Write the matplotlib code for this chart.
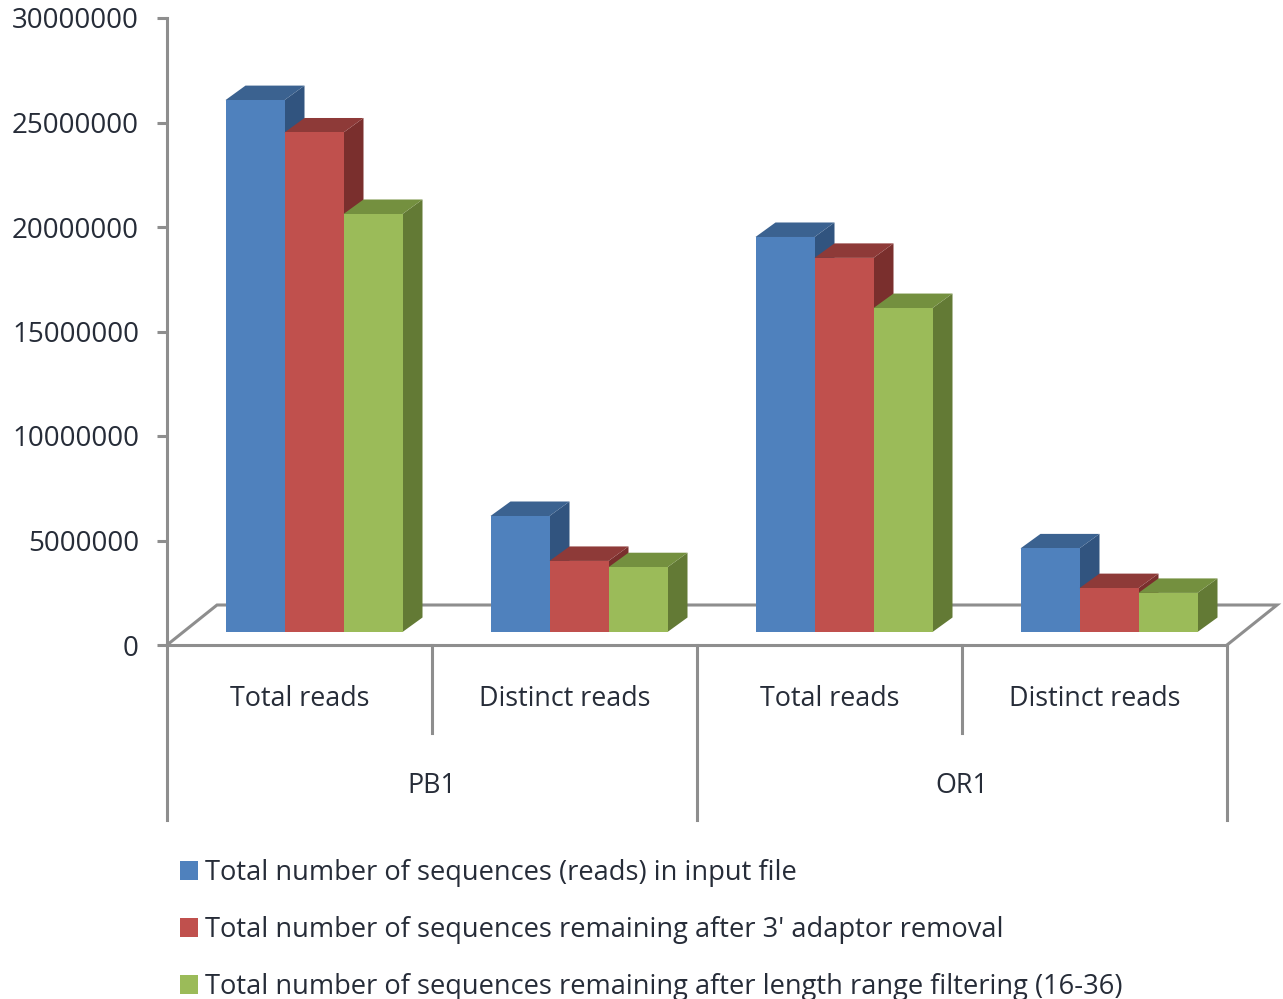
import matplotlib
matplotlib.use("Agg")
import matplotlib.pyplot as plt
from matplotlib.patches import Patch

plt.rcParams['font.family'] = ['Open Sans', 'DejaVu Sans']

groups = ["PB1", "OR1"]
categories = ["Total reads", "Distinct reads", "Total reads", "Distinct reads"]
series_names = [
    "Total number of sequences (reads) in input file",
    "Total number of sequences remaining after 3' adaptor removal",
    "Total number of sequences remaining after length range filtering (16-36)",
]
input_reads = [25450000, 5550000, 18900000, 4000000]
adaptor_removed = [23900000, 3400000, 17900000, 2100000]
length_filtered = [20000000, 3100000, 15500000, 1870000]
y_ticks = [0, 5000000, 10000000, 15000000, 20000000, 25000000, 30000000]

front_colors = ["#4f81bd", "#c0504d", "#9bbb59"]
top_colors = ["#3b6290", "#8e3a38", "#74903f"]
side_colors = ["#31547f", "#7a2f2d", "#637a35"]
line_color = "#8e8e8e"
text_color = "#262c38"

W, H = 1283, 999
LEFT, RIGHT, TOP, BOTTOM = 167, 1227, 18, 645
LW = 2.2

fig = plt.figure(figsize=(W / 100, H / 100), dpi=100)
ax = fig.add_axes([LEFT / W, 1 - BOTTOM / H, (RIGHT - LEFT) / W, (BOTTOM - TOP) / H])
ax.set_xlim(0, len(categories))
ax.set_ylim(0, y_ticks[-1])

# sizes in pixels converted to data units, for the fake 3d offsets
px_x = len(categories) / (RIGHT - LEFT)
px_y = y_ticks[-1] / (BOTTOM - TOP)

for s in ["top", "right"]:
    ax.spines[s].set_visible(False)
for s in ["left", "bottom"]:
    ax.spines[s].set_color(line_color)
    ax.spines[s].set_linewidth(LW)

ax.set_yticks(y_ticks)
ax.set_yticklabels([str(t) for t in y_ticks], fontsize=20, color=text_color)
ax.tick_params(axis="y", length=7.2, width=LW, color=line_color, pad=13)
ax.set_xticks([])

# floor of the chart
floor_dx = 50 * px_x
floor_dy = 40 * px_y
ax.plot([0, floor_dx, len(categories) + floor_dx, len(categories)],
        [0, floor_dy, floor_dy, 0], color=line_color, lw=LW, clip_on=False,
        solid_joinstyle="miter", zorder=1)

# separators of the two level category axis
low_end = -88 * px_y
group_end = -175 * px_y
for x in [0, 2, 4]:
    ax.plot([x, x], [0, group_end], color=line_color, lw=LW, clip_on=False)
for x in [1, 3]:
    ax.plot([x, x], [0, low_end], color=line_color, lw=LW, clip_on=False)

for i, name in enumerate(categories):
    ax.text(i + 0.5, -54 * px_y, name, ha="center", va="center",
            fontsize=19.4, color=text_color)
for i, name in enumerate(groups):
    ax.text(2 * i + 1, -141 * px_y, name, ha="center", va="center",
            fontsize=19.4, color=text_color)

# bars
bar_w = 59 * px_x
gap = 44 * px_x
shift_x = 14.5 * px_x
base = 13 * px_y
depth_x = 20 * px_x
depth_y = 14.5 * px_y

zorder = 3
for i in range(len(categories)):
    vals = [input_reads[i], adaptor_removed[i], length_filtered[i]]
    for j, v in enumerate(vals):
        x0 = i + gap + shift_x + j * bar_w
        x1 = x0 + bar_w
        y1 = base + v
        ax.fill([x1, x1 + depth_x, x1 + depth_x, x1],
                [base, base + depth_y, y1 + depth_y, y1],
                color=side_colors[j], lw=0, clip_on=False, zorder=zorder)
        ax.fill([x0, x0 + depth_x, x1 + depth_x, x1],
                [y1, y1 + depth_y, y1 + depth_y, y1],
                color=top_colors[j], lw=0, clip_on=False, zorder=zorder)
        ax.bar(x0, v, width=bar_w, bottom=base, align="edge", color=front_colors[j],
               lw=0, clip_on=False, zorder=zorder)
        zorder += 1

handles = [Patch(facecolor=c, edgecolor="none") for c in front_colors]
fig.legend(handles, series_names, loc="upper left", bbox_to_anchor=(180 / W, 1 - 859 / H),
           frameon=False, fontsize=19.6, labelcolor=text_color, handlelength=0.67,
           handleheight=0.67, handletextpad=0.26, labelspacing=1.065,
           borderpad=0, borderaxespad=0)

fig.savefig("out.png", dpi=100, facecolor="white")
